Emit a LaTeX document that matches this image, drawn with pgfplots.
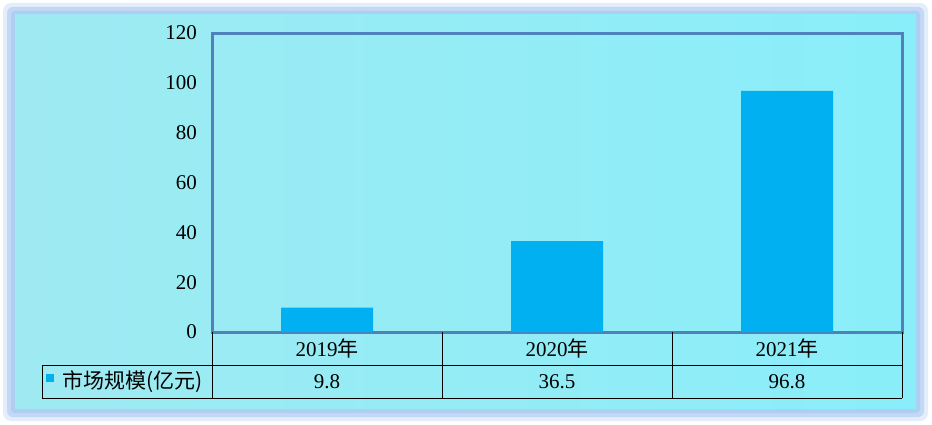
\documentclass[border=0pt]{standalone}
\usepackage{fontspec}
\setmainfont{Liberation Serif}
\newfontfamily\cjk{Noto Sans CJK SC}
\usepackage{pgfplots}
\pgfplotsset{compat=1.18}
\usetikzlibrary{calc}

\definecolor{bgleft}{HTML}{9FEAF2}
\definecolor{bgright}{HTML}{89EEF9}
\definecolor{glowA}{HTML}{E4EEFA}
\definecolor{glowB}{HTML}{C2D8F5}
\definecolor{glowC}{HTML}{B0CDF2}
\definecolor{barblue}{HTML}{00B0F0}
\definecolor{frameblue}{HTML}{4F81BD}

\begin{document}
\begin{tikzpicture}[x=1pt,y=1pt,font=\fontsize{21}{25}\selectfont]
% page and glow frame (pixel grid, y up)
\fill[white] (0,0) rectangle (932,424);
\fill[glowA, rounded corners=8pt] (3,3) rectangle (928,421);
\fill[glowB, rounded corners=6pt] (7,7) rectangle (924,417);
\fill[glowC, rounded corners=4pt] (11,11) rectangle (920,413);
\shade[left color=bgleft, right color=bgright] (15,16) rectangle (916,409);

\begin{axis}[
  at={(212pt,92pt)}, anchor=south west,
  scale only axis,
  width=690pt, height=299pt,
  xmin=-0.5, xmax=2.5,
  ymin=0, ymax=120,
  ytick={0,20,...,120},
  xtick={0,1,2},
  xticklabels={2019{\cjk 年},2020{\cjk 年},2021{\cjk 年}},
  major tick length=0pt,
  axis line style={frameblue, line width=3pt},
  ybar, bar width=0.4,
  clip=false,
  /pgf/number format/assume math mode=true,
  yticklabel style={inner sep=0pt, xshift=-15pt, font=\fontsize{21}{25}\selectfont},
  xticklabel style={anchor=center, inner sep=0pt, yshift=-16.5pt, font=\fontsize{21}{25}\selectfont},
]
\addplot[fill=barblue, draw=none] coordinates {(0,9.8) (1,36.5) (2,96.8)};

% values row of the data table
\node at (axis cs:0,-19.87) {9.8};
\node at (axis cs:1,-19.87) {36.5};
\node at (axis cs:2,-19.87) {96.8};
\end{axis}

% data table grid
\draw[black, line width=1pt]
  (42,59) -- (902,59)
  (42,26) -- (902,26)
  (42,26) -- (42,59)
  (212,26) -- (212,92)
  (442,26) -- (442,92)
  (672,26) -- (672,92)
  (902,26) -- (902,92);
% legend key and series name
\fill[barblue] (46,42) rectangle (54,50);
\node[anchor=west, inner sep=0pt] at (62,42.5) {\cjk 市场规模(亿元)};
\end{tikzpicture}
\end{document}
